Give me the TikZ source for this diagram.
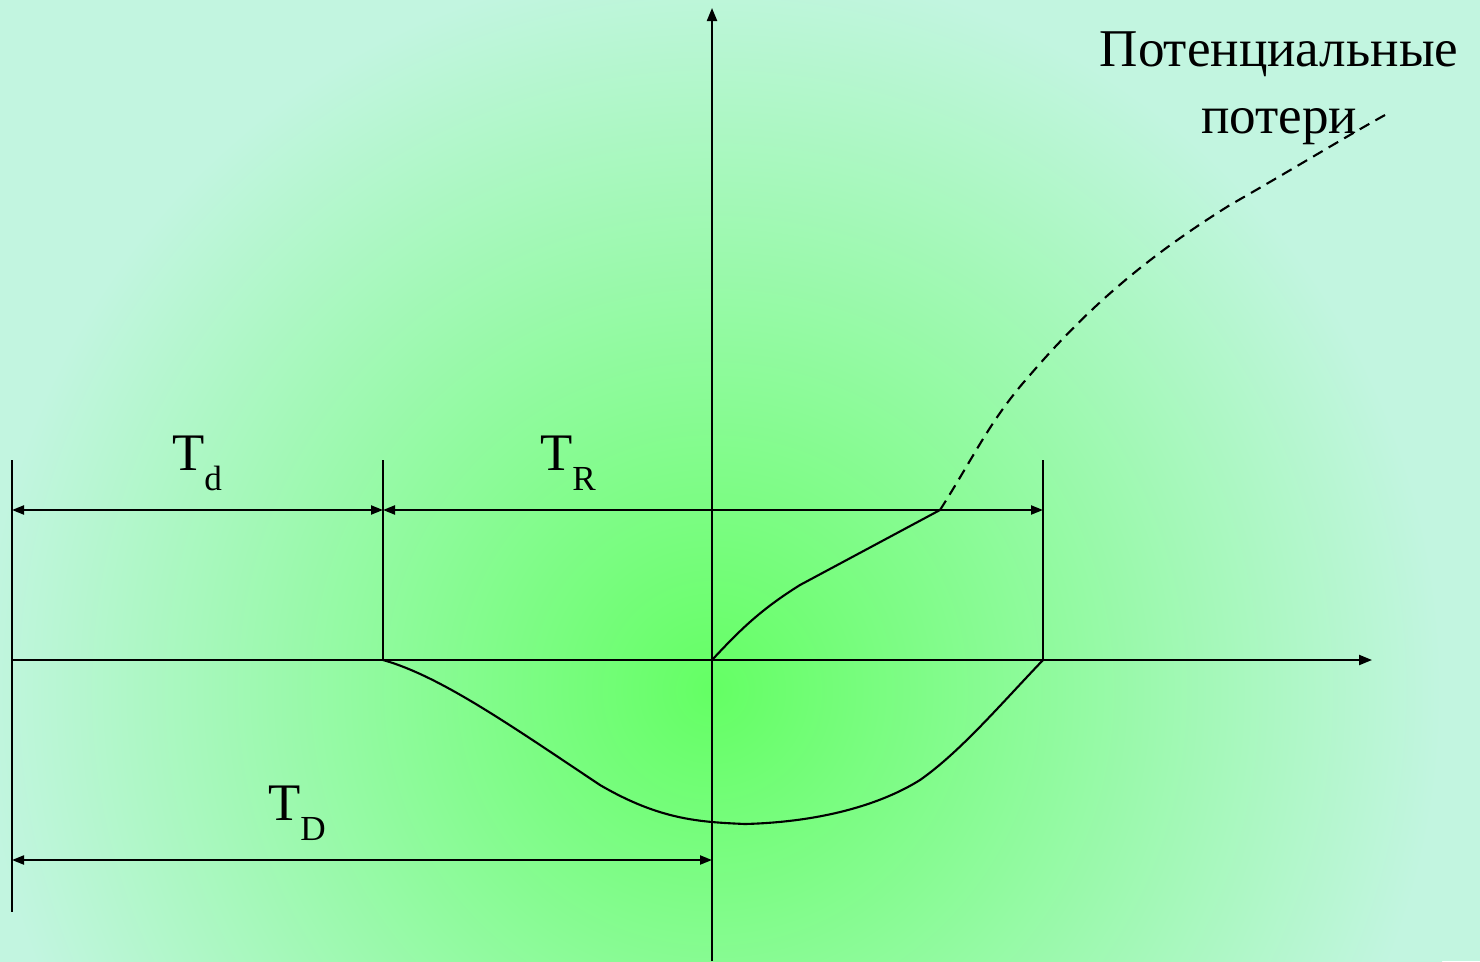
\documentclass[tikz,border=0pt]{standalone}
\usepackage{fontspec}
\setmainfont{Liberation Serif}
\usepackage{tikz}
\usetikzlibrary{arrows.meta}

\definecolor{bgcentre}{RGB}{100,255,100}
\definecolor{bgedge}{RGB}{194,245,224}

\newcommand{\tlabel}[1]{T\raisebox{-0.2cm}{\fontsize{10}{10}\selectfont #1}}

\begin{document}
\begin{tikzpicture}[
  x=0.01cm, y=-0.01cm,
  line width=0.6pt,
  axis/.style={-{Triangle[length=1.3mm,width=1mm]}},
  dim/.style={{Triangle[length=1.2mm,width=0.9mm]}-{Triangle[length=1.2mm,width=0.9mm]}},
  lbl/.style={anchor=base west,inner sep=0pt,font=\fontsize{15}{15}\selectfont},
  loss/.style={dash pattern=on 1.1mm off 0.7mm}
]
% background
\useasboundingbox (0,0) rectangle (1480,961);
\begin{scope}
\clip (0,0) rectangle (1480,961);
\fill[bgedge] (0,0) rectangle (1480,961);
\shade[inner color=bgcentre,outer color=bgedge] (-18,-40) rectangle (1442,1420);
\end{scope}

% points
\coordinate (O) at (712,660);
\coordinate (ytop) at (712,8);
\coordinate (ybot) at (712,961);
\coordinate (xend) at (1372,660);
\coordinate (L0) at (12,660);
\coordinate (Lt) at (12,460);
\coordinate (Lb) at (12,912);
\coordinate (A0) at (383,660);
\coordinate (At) at (383,460);
\coordinate (B0) at (1043,660);
\coordinate (Bt) at (1043,460);
\coordinate (dL) at (12,510);
\coordinate (dA) at (383,510);
\coordinate (dB) at (1043,510);
\coordinate (DL) at (12,860);
\coordinate (DO) at (712,860);
\coordinate (K) at (940,510);

% axes and limits
\draw[axis] (ybot) -- (ytop);
\draw[axis] (L0) -- (xend);
\draw (Lt) -- (Lb);
\draw (At) -- (A0);
\draw (Bt) -- (B0);

% dimensions
\draw[dim] (dL) -- (dA);
\draw[dim] (dA) -- (dB);
\draw[dim] (DL) -- (DO);
\node[lbl] (Td) at (171,470) {\tlabel{d}};
\node[lbl] (TR) at (539,470) {\tlabel{R}};
\node[lbl] (TD) at (267,820) {\tlabel{D}};

% curves
\draw (A0) .. controls (440,676) and (510,725) .. (600,785)
  .. controls (660,820) and (700,822) .. (745,824)
  .. controls (820,822) and (880,805) .. (920,780)
  .. controls (960,752) and (1000,705) .. (B0);
\draw (O) .. controls (740,630) and (760,610) .. (800,585) -- (K);
\draw[loss] (K) .. controls (975,455) and (990,420) .. (1030,375)
  .. controls (1090,305) and (1150,255) .. (1230,205)
  .. controls (1300,165) and (1340,140) .. (1385,115);

\node[align=center,font=\fontsize{15.1}{19}\selectfont] (losses) at (1279,88) {Потенциальные\\потери};
\end{tikzpicture}
\end{document}
